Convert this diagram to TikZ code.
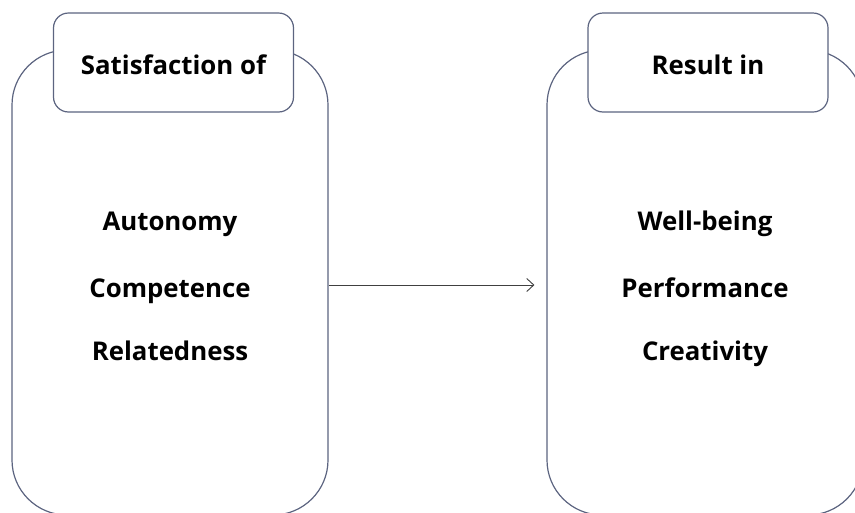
\documentclass[tikz,border=0pt]{standalone}
\usepackage{fontspec}
\setmainfont{Open Sans}
\usetikzlibrary{positioning,arrows.meta}

\tikzset{
  bigbox/.style={draw=boxline, line width=1.2pt, fill=white, rounded corners=55pt,
    minimum width=316pt, minimum height=465pt, inner sep=0pt},
  headbox/.style={draw=boxline, line width=1.2pt, fill=white, rounded corners=15pt,
    minimum width=240pt, minimum height=99pt, inner sep=0pt,
    text height=23pt, text depth=0pt},
  item/.style={font=\fontsize{25.8}{30}\selectfont\bfseries, inner sep=0pt}
}
\definecolor{boxline}{RGB}{92,100,128}

\begin{document}
\begin{tikzpicture}[x=1pt,y=-1pt]
  \useasboundingbox (0,0) rectangle (855,512);
  % outer boxes
  \node[bigbox] (lbox) at (170,282.5) {};
  \node[bigbox] (rbox) at (705,282.5) {};
  % headers
  \node[headbox, item] (lhead) at (173.5,62.5) {Satisfaction of};
  \node[headbox, item] (rhead) at (708,62.5) {Result in};
  % needs
  \node[item, anchor=base] (auto) at (170,230) {Autonomy};
  \node[item, anchor=base] (comp) at (170,297) {Competence};
  \node[item, anchor=base] (rela) at (170,360) {Relatedness};
  % outcomes
  \node[item, anchor=base] (well) at (705,230) {Well-being};
  \node[item, anchor=base] (perf) at (705,297) {Performance};
  \node[item, anchor=base] (crea) at (705,360) {Creativity};
  \draw[-{Straight Barb[length=7pt,width=13pt]}, line width=0.9pt, draw=black!75, shorten >=12pt]
    ([yshift=-2.5pt]lbox.east) -- ([yshift=-2.5pt]rbox.west);
\end{tikzpicture}
\end{document}
